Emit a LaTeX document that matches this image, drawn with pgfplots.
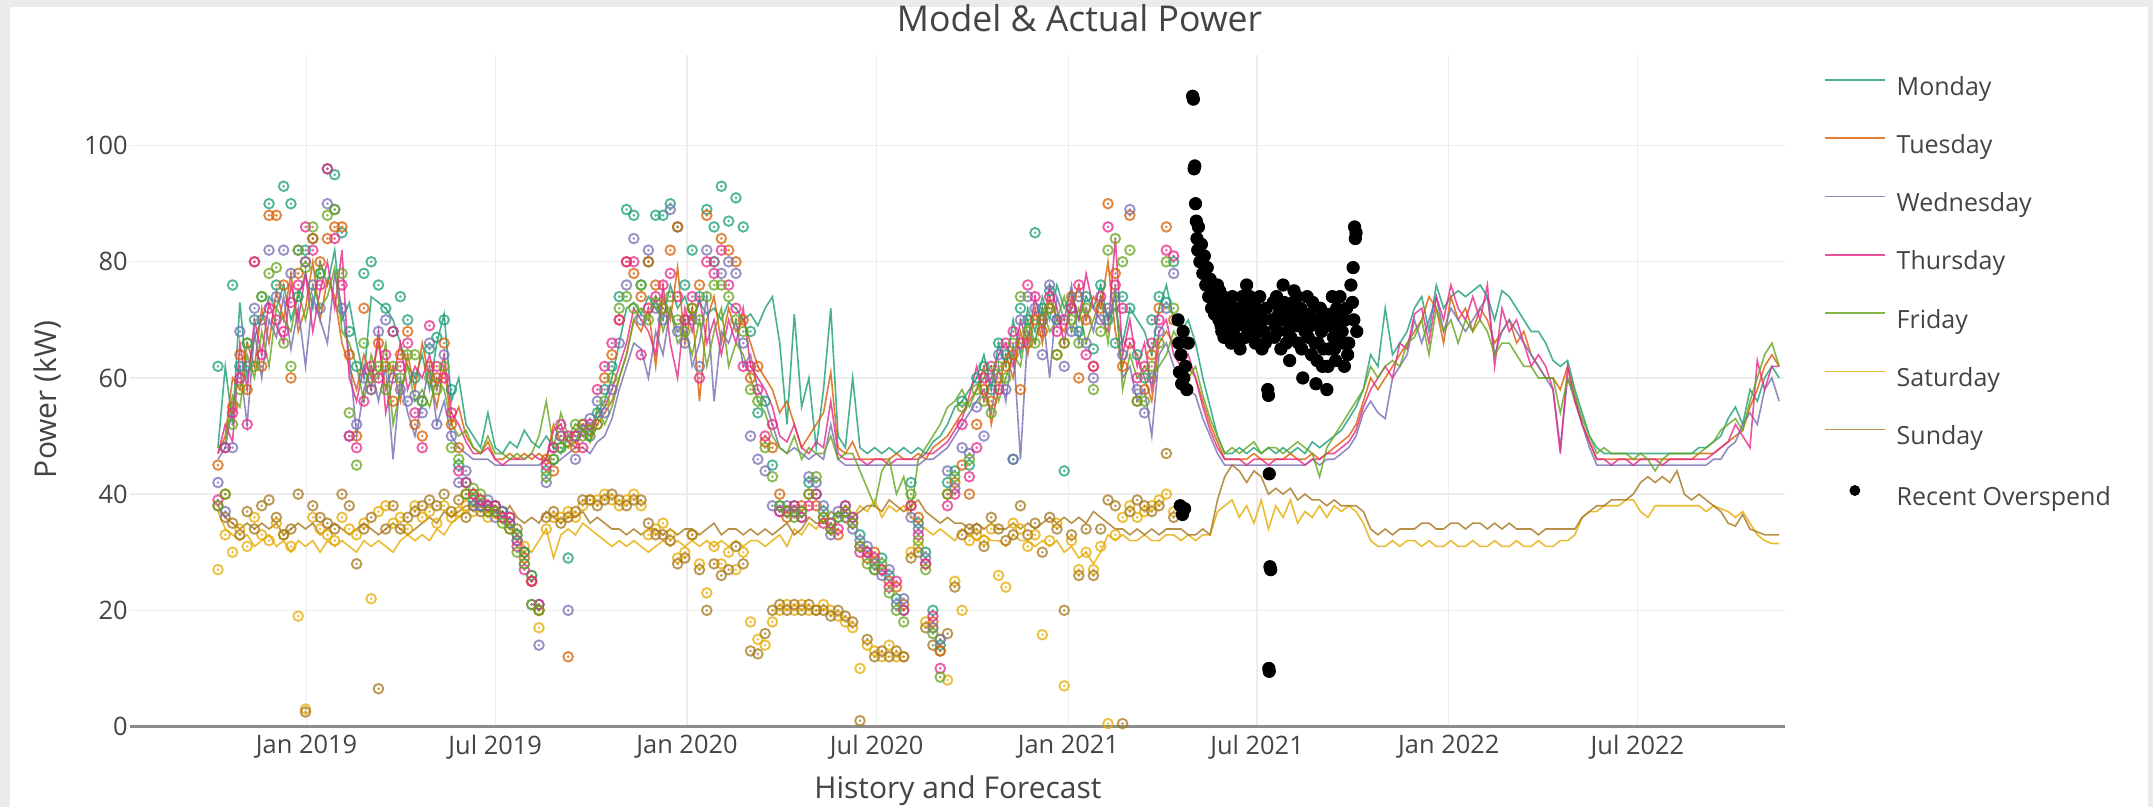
\documentclass[border=0pt]{standalone}
\usepackage{pgfplots}
\pgfplotsset{compat=1.18}
\usepackage{pgfplotstable}
\usepackage{fontspec}
\setmainfont{Open Sans}
\definecolor{cMon}{HTML}{1B9E77}
\definecolor{cTue}{HTML}{D95F02}
\definecolor{cWed}{HTML}{7570B3}
\definecolor{cThu}{HTML}{E7298A}
\definecolor{cFri}{HTML}{66A61E}
\definecolor{cSat}{HTML}{E6AB02}
\definecolor{cSun}{HTML}{A6761D}
\definecolor{txt}{HTML}{444444}
\definecolor{gridc}{HTML}{EDEDED}
\definecolor{zerol}{HTML}{8C8C8C}
\definecolor{framec}{HTML}{EBEBEB}

\pgfdeclareplotmark{cdot}{%
  \pgfpathcircle{\pgfpointorigin}{\pgfplotmarksize}%
  \pgfusepathqstroke
  \pgfpathcircle{\pgfpointorigin}{0.3\pgfplotmarksize}%
  \pgfusepathqfill
}

% model lines, weekly (w = weeks since 8 Oct 2018)
\pgfplotstableread{
w mo tu we th fr sa su
0 48 47 46 47 48 37 38
1 62 50 48 52 49 34 36
2 52 60 55 49 57 33 35
3 73 58 62 66 55 32 34
4 60 66 52 58 64 33 35
5 67 62 68 70 60 31 34
6 70 72 60 64 68 32 35
7 74 66 70 73 62 33 34
8 72 75 67 69 72 31 35
9 76 70 74 66 70 32 33
10 70 78 65 76 68 30 34
11 74 68 72 70 75 32 35
12 78 72 62 78 70 31 34
13 72 80 74 68 76 32 35
14 80 70 70 75 72 30 33
15 76 77 66 80 74 32 34
16 82 74 78 72 79 31 35
17 70 66 72 82 68 32 34
18 73 62 64 60 66 31 33
19 66 58 50 56 62 30 34
20 60 64 58 62 56 32 35
21 74 60 62 58 64 31 34
22 73 66 56 68 60 32 33
23 72 58 62 54 66 31 34
24 70 62 46 60 52 30 35
25 66 56 60 66 58 32 34
26 62 64 54 58 62 33 33
27 60 58 50 62 56 32 34
28 64 66 56 60 58 33 35
29 58 60 62 64 55 32 36
30 66 55 52 58 60 34 35
31 71 62 56 64 58 33 37
32 56 52 50 54 52 35 36
33 60 55 48 52 50 36 37
34 52 50 47 49 51 37 38
35 50 48 46 47 48 38 38
36 48 47 46 47 47 37 39
37 54 49 46 48 50 38 37
38 48 46 45 46 47 36 37
39 47 46 45 45 47 35 36
40 49 47 45 46 46 34 38
41 48 46 45 46 47 33 36
42 51 47 45 46 46 31 35
43 49 46 45 47 47 30 36
44 48 47 45 46 50 32 35
45 50 46 46 46 56 34 37
46 48 52 45 51 48 29 36
47 47 49 46 52 54 33 35
48 50 48 47 49 50 34 36
49 49 51 48 48 52 33 36
50 52 50 48 51 51 35 37
51 51 49 47 50 49 34 35
52 54 52 49 53 55 33 36
53 56 54 50 55 52 32 35
54 60 56 53 58 55 31 34
55 66 60 58 62 60 32 34
56 72 64 62 66 64 31 33
57 73 70 66 72 70 32 34
58 71 68 65 70 72 31 33
59 74 72 60 68 70 30 34
60 72 62 68 64 74 31 34
61 70 74 64 76 68 32 33
62 76 70 72 66 72 31 34
63 72 79 68 60 66 32 33
64 74 66 70 72 68 31 34
65 70 72 62 68 64 32 34
66 73 56 66 74 70 31 33
67 71 70 74 66 62 32 34
68 72 74 56 70 68 31 35
69 70 66 68 64 72 32 33
70 73 72 66 70 62 31 34
71 72 68 70 66 66 32 34
72 70 70 62 72 64 31 33
73 71 66 64 62 60 32 34
74 69 62 58 60 56 32 33
75 72 60 56 58 54 31 34
76 74 58 52 55 50 32 33
77 66 54 48 50 48 33 34
78 52 56 47 49 47 31 35
79 71 52 48 52 50 34 33
80 55 48 47 48 46 33 34
81 60 50 46 47 48 35 36
82 48 52 47 49 47 34 35
83 58 54 46 48 47 36 35
84 72 61 52 56 50 33 37
85 50 48 46 47 46 37 36
86 48 47 45 46 47 35 37
87 60 49 45 46 47 36 36
88 48 46 45 46 44 38 37
89 47 46 45 45 41 37 38
90 48 46 45 46 38 39 38
91 47 46 45 46 44 36 37
92 48 46 45 45 46 38 39
93 47 47 45 46 40 37 38
94 48 46 45 46 43 38 37
95 47 46 45 46 37 36 38
96 48 47 45 46 46 35 39
97 47 46 46 47 48 34 37
98 49 48 46 47 50 33 36
99 50 49 47 48 52 34 35
100 52 50 48 49 55 33 36
101 55 52 50 51 56 32 35
102 56 54 52 53 58 34 35
103 58 56 54 57 55 33 34
104 60 58 56 62 58 32 35
105 64 62 58 56 60 33 34
106 58 52 54 60 62 32 35
107 66 58 62 64 56 32 34
108 62 64 56 66 60 31 34
109 70 60 66 62 64 33 35
110 64 68 46 70 62 32 34
111 72 64 68 66 70 32 35
112 68 72 66 74 66 31 34
113 74 66 72 68 72 32 35
114 70 74 60 76 68 31 36
115 76 70 74 72 70 32 35
116 72 68 70 66 74 30 36
117 75 72 76 74 68 31 35
118 70 76 66 70 72 29 36
119 74 70 72 78 66 30 35
120 72 74 68 72 70 28 37
121 76 72 74 70 74 30 36
122 70 80 70 68 66 33 35
123 72 68 74 84 76 32 34
124 66 62 60 64 58 33 34
125 72 66 62 70 64 32 33
126 70 64 56 62 60 32 34
127 68 60 58 66 62 33 33
128 64 56 50 58 60 32 34
129 72 66 64 68 62 32 33
130 76 68 66 70 64 33 34
131 70 66 62 64 68 33 34
132 68 64 60 62 66 32 34
133 70 62 58 64 60 33 33
134 66 60 57 60 62 32 33
135 60 56 53 55 57 33 34
136 55 52 50 51 53 33 33
137 50 49 47 48 50 37 39
138 47 46 45 46 47 38 43
139 47 46 45 46 48 39 45
140 48 46 45 46 47 36 44
141 47 46 45 45 48 38 42
142 48 47 45 46 49 35 44
143 47 46 45 46 47 39 43
144 48 46 45 45 48 34 40
145 47 46 45 46 48 38 41
146 48 46 45 46 47 36 40
147 47 47 45 46 48 39 41
148 48 46 45 46 49 35 39
149 47 46 45 45 48 37 40
150 49 47 46 46 47 36 39
151 48 46 45 46 43 38 39
152 49 47 46 47 48 36 38
153 50 48 46 47 50 38 39
154 51 49 47 48 52 37 38
155 53 50 48 49 54 38 38
156 55 52 50 51 56 37 38
157 58 56 54 55 58 35 37
158 64 60 56 58 62 32 34
159 62 58 54 60 60 31 33
160 72 60 53 62 62 31 34
161 64 62 60 60 63 32 33
162 66 64 62 66 62 31 34
163 68 66 64 65 66 32 34
164 72 68 70 71 67 32 34
165 74 70 66 72 70 31 35
166 68 74 70 66 64 32 35
167 76 72 74 74 72 31 34
168 72 66 68 70 68 31 34
169 74 74 72 76 70 32 35
170 75 70 70 72 66 31 35
171 74 72 68 70 70 31 34
172 75 68 70 74 68 32 35
173 76 72 72 70 70 31 35
174 74 70 74 76 68 31 34
175 70 66 64 62 64 32 35
176 75 68 68 72 66 31 34
177 74 70 70 68 66 31 35
178 72 66 68 70 64 32 34
179 70 68 66 66 62 31 34
180 68 64 64 62 62 31 34
181 68 62 62 64 60 32 33
182 66 60 60 62 60 31 34
183 63 60 58 58 60 31 34
184 62 58 48 47 54 32 34
185 63 62 60 62 60 32 34
186 58 57 56 56 57 33 34
187 54 52 52 52 53 36 36
188 50 49 48 49 50 37 37
189 48 46 45 46 47 37 38
190 47 46 45 46 48 38 38
191 47 46 45 45 47 38 39
192 47 46 45 46 47 38 39
193 47 46 45 46 47 39 39
194 47 46 45 45 46 39 40
195 47 46 45 46 47 37 42
196 47 46 45 46 46 36 43
197 47 46 45 46 44 38 42
198 47 46 45 45 46 38 43
199 47 46 45 46 47 38 42
200 47 46 45 46 47 38 44
201 47 46 45 46 47 38 40
202 47 46 45 46 47 38 39
203 48 47 45 46 47 38 40
204 48 47 45 46 48 37 39
205 49 47 46 47 49 38 38
206 50 48 46 48 51 37.5 37
207 53 49 48 49 52 37 35
208 55 50 49 52 53 36 34.5
209 52 51 52 50 51 37 36.5
210 58 55 54 48 56 35 34
211 56 58 52 63 60 33 33.5
212 60 62 58 58 64 32 33
213 62 64 60 62 66 31.5 33
214 60 62 56 62 62 31.5 33
}\tblmodel

% actual (history) values, weekly
\pgfplotstableread{
w mo tu we th fr sa su
0 62 45 42 39 38 27 38
1 48 40 37 48 40 33 36
2 76 55 48 54 52 30 35
3 62 64 68 60 58 34 33
4 66 58 62 52 66 31 37
5 70 80 72 80 62 36 34
6 74 62 70 64 74 33 38
7 90 88 82 72 78 32 39
8 76 88 74 70 79 35 36
9 93 76 82 68 66 33 33
10 90 60 78 73 62 31 34
11 74 78 82 76 82 19 40
12 82 80 80 86 79 3 2.5
13 84 84 76 82 86 36 38
14 78 80 72 76 78 34 36
15 96 84 90 96 88 33 35
16 95 86 89 84 89 32 34
17 85 86 72 76 78 36 40
18 68 64 50 50 54 34 38
19 62 50 52 48 45 33 28
20 78 72 60 56 66 35 34
21 80 58 58 62 60 22 36
22 76 66 68 60 62 37 6.5
23 72 62 70 64 58 38 34
24 68 56 60 68 62 35 38
25 74 64 58 62 60 36 34
26 70 68 56 66 64 34 36
27 60 52 57 54 64 38 37
28 56 50 54 48 56 36 38
29 65 62 66 69 60 37 39
30 67 60 52 62 58 35 38
31 70 66 64 60 62 38 40
32 58 52 50 54 48 36 37
33 45 48 42 44 46 37 39
34 42 40 44 42 40 38 36
35 39 40 38 40 41 37 38
36 38 39 38 39 40 38 37
37 38 37 39 38 37 36 38
38 38 37 36 38 37 37 38
39 37 36 37 36 35 36 37
40 35 34 35 36 34 35 36
41 33 32 32 31 30 33 34
42 30 29 28 27 28 31 30
43 26 25 21 25 21 26 25
44 21 20 14 21 20 17 20
45 44 46 42 45 43 34 36
46 46 44 48 48 46 36 37
47 48 50 50 52 48 36 35
48 29 12 20 50 49 37 36
49 50 48 46 50 52 36 37
50 52 52 51 48 50 38 39
51 50 51 53 52 51 39 39
52 54 52 56 58 52 39 38
53 58 60 54 62 56 40 39
54 62 64 58 66 60 39 40
55 74 70 66 70 72 38 39
56 89 80 76 80 74 39 38
57 88 78 84 80 72 40 39
58 76 74 70 64 76 38 39
59 80 80 82 72 70 33 35
60 88 76 72 74 73 34 33
61 88 72 70 76 72 35 33
62 90 82 89 78 74 33 32
63 86 86 68 74 70 29 28
64 76 70 66 70 68 30 29
65 82 72 70 74 72 33 33
66 74 76 62 60 70 28 27
67 89 88 82 80 74 23 20
68 86 80 80 78 76 31 28
69 93 84 78 82 76 28 26
70 87 82 80 76 74 30 27
71 91 80 78 72 70 27 31
72 86 70 66 62 68 30 28
73 68 60 50 62 58 18 13
74 54 62 46 58 56 15 12.5
75 56 49 44 50 48 14 16
76 45 48 38 52 43 18 20
77 38 40 37 37 38 20 21
78 37 36 38 37 37 21 20
79 38 37 37 38 36 20 21
80 37 38 36 36 37 21 20
81 42 40 43 38 40 20 21
82 40 38 42 40 43 20 20
83 37 36 38 35 36 21 20
84 35 34 33 35 34 20 19
85 36 33 37 34 36 19 20
86 38 37 36 38 37 18 19
87 36 35 34 36 35 17 18
88 33 31 32 30 31 10 1
89 30 29 31 30 28 14 15
90 28 30 27 29 27 13 12
91 29 27 26 27 28 12 13
92 26 25 27 24 23 14 12
93 22 24 21 25 20 12 13
94 20 21 22 20 18 12 12
95 42 38 36 38 40 30 29
96 35 36 34 33 32 31 30
97 30 28 29 28 27 18 17
98 20 18 17 19 16 17 14
99 14 13 15 10 8.5 15 13
100 42 40 44 38 40 8 16
101 44 42 41 40 43 25 24
102 56 45 48 52 55 20 33
103 45 40 47 43 46 32 34
104 60 52 55 48 58 33 34
105 62 58 50 60 56 32 31
106 58 56 60 62 54 34 36
107 66 60 64 58 62 26 34
108 64 62 58 66 60 24 32
109 46 64 46 68 66 35 33
110 72 58 70 66 74 34 38
111 70 66 74 76 68 31 33
112 85 70 72 74 66 33 35
113 72 68 64 70 70 15.8 30
114 75 72 76 74 72 32 36
115 70 64 70 68 64 35 34
116 44 66 62 70 66 7 20
117 72 74 68 72 70 32 33
118 68 60 74 76 66 27 26
119 74 70 66 64 72 30 34
120 65 62 60 62 58 27 26
121 76 72 70 74 68 31 34
122 70 90 72 86 82 0.5 39
123 66 78 74 76 84 33 38
124 74 62 64 72 80 36 0.5
125 72 88 89 66 82 38 37
126 64 56 58 60 56 36 39
127 60 58 54 62 56 37 38
128 70 64 60 66 62 38 37
129 74 72 68 70 66 39 38
130 73 86 72 82 80 40 47
131 80 70 78 81 72 37 36
}\tblact

% recent overspend
\pgfplotstableread{
w v
131.6 70
131.7 66
131.8 61
131.9 38
132.0 64
132.1 59
132.2 36.5
132.3 68
132.4 60
132.5 37.5
132.6 62
132.8 58
133.0 66
133.6 108.5
133.7 108
133.8 96
133.9 96.5
134.0 90
134.1 87
134.2 84
134.3 82
134.4 86
134.6 80
134.8 83
135.0 78
135.2 81
135.4 76
135.6 79
135.8 74
136.0 77
136.2 72
136.4 75
136.6 71
136.8 73
137.0 76
137.1 73
137.2 70
137.3 75
137.4 72
137.5 69
137.6 68
137.7 71
137.8 74
137.9 67
138.0 71
138.15 72
138.3 69
138.45 70
138.6 73
138.75 68
138.9 66
139.05 74
139.2 70
139.35 71
139.5 67
139.65 69
139.8 72
139.95 66
140.1 65
140.25 70
140.4 74
140.55 72
140.7 69
140.85 67
141.0 76
141.15 73
141.3 71
141.45 74
141.6 68
141.75 70
141.9 73
142.05 69
142.2 66
142.35 72
142.5 70
142.65 68
142.8 74
142.95 71
143.1 65
143.25 70
143.4 68
143.55 66
143.7 72
143.9 58
144.0 57
144.1 43.5
144.2 27.5
144.3 27
144.05 10
144.1 9.5
144.5 70
144.65 73
144.8 67
144.95 69
145.1 74
145.25 68
145.4 71
145.55 72
145.7 65
145.85 70
146.0 76
146.15 73
146.3 72
146.45 66
146.6 68
146.75 70
146.9 63
147.05 67
147.2 70
147.35 73
147.5 75
147.65 71
147.8 69
147.95 74
148.1 66
148.25 69
148.4 72
148.55 65
148.7 60
148.85 70
149.0 68
149.15 71
149.3 74
149.45 67
149.6 71
149.75 69
149.9 64
150.05 73
150.2 70
150.35 66
150.5 59
150.65 63
150.8 66
150.95 70
151.1 72
151.25 68
151.4 62
151.55 65
151.7 69
151.85 71
152.0 58
152.15 62
152.3 65
152.45 69
152.6 71
152.75 74
152.9 67
153.05 65
153.2 63
153.35 72
153.5 70
153.65 69
153.8 74
153.95 71
154.1 68
154.25 66
154.4 62
154.55 70
154.7 72
154.85 64
155.0 66
155.3 76
155.5 73
155.6 79
155.7 70
155.8 86
155.9 84
156.0 85
156.1 68
}\tblover

\begin{document}
\begin{tikzpicture}
\fill[framec] (0pt,0pt) rectangle (1076.5pt,403.5pt);
\fill[white] (5pt,0pt) rectangle (1074pt,400pt);
\begin{axis}[
  at={(65pt,40.25pt)}, anchor=south west,
  scale only axis, width=827.5pt, height=335.75pt,
  xmin=-12.06, xmax=214.8, ymin=0, ymax=115.6,
  axis line style={draw=none},
  major tick length=0pt,
  xtick={12.14,38,64.29,90.29,116.57,142.43,168.71,194.57},
  xticklabels={Jan 2019,Jul 2019,Jan 2020,Jul 2020,Jan 2021,Jul 2021,Jan 2022,Jul 2022},
  ytick={20,40,60,80,100},
  extra y ticks={0},
  extra y tick style={grid=major, grid style={draw=zerol, line width=1.1pt}},
  grid=major, grid style={draw=gridc, line width=0.7pt},
  /pgf/number format/assume math mode=true,
  tick label style={font=\fontsize{12.7}{15}\selectfont, text=txt},
  xticklabel style={anchor=north, inner sep=0pt, yshift=-4.25pt},
  yticklabel style={anchor=east, inner sep=0pt, xshift=-1pt},
  clip=false,
  legend cell align=left,
  legend style={
    at={(axis description cs:1.0236,0.9672)}, anchor=north west,
    draw=none, fill=none, inner sep=0pt, outer sep=0pt,
    font=\fontsize{12.5}{15}\selectfont, text=txt,
    row sep=17.15pt,
    nodes={inner sep=0pt, text height=9pt, text depth=3pt},
    /tikz/every odd column/.append style={column sep=5.5pt},
  },
  legend image code/.code={\draw[#1] (0pt,4.6pt) -- (30pt,4.6pt);},
]
\addplot[draw=cMon, line width=0.8pt, draw opacity=0.8] table[x=w,y=mo]{\tblmodel};
\addlegendentry{Monday}
\addplot[draw=cTue, line width=0.8pt, draw opacity=0.8] table[x=w,y=tu]{\tblmodel};
\addlegendentry{Tuesday}
\addplot[draw=cWed, line width=0.8pt, draw opacity=0.8] table[x=w,y=we]{\tblmodel};
\addlegendentry{Wednesday}
\addplot[draw=cThu, line width=0.8pt, draw opacity=0.8] table[x=w,y=th]{\tblmodel};
\addlegendentry{Thursday}
\addplot[draw=cFri, line width=0.8pt, draw opacity=0.8] table[x=w,y=fr]{\tblmodel};
\addlegendentry{Friday}
\addplot[draw=cSat, line width=0.8pt, draw opacity=0.8] table[x=w,y=sa]{\tblmodel};
\addlegendentry{Saturday}
\addplot[draw=cSun, line width=0.8pt, draw opacity=0.8] table[x=w,y=su]{\tblmodel};
\addlegendentry{Sunday}

\addplot[forget plot, only marks, mark=cdot, mark size=2.4pt, mark options={draw=cSat, fill=cSat, line width=0.95pt, draw opacity=0.75, fill opacity=0.75}] table[x=w,y=sa]{\tblact};
\addplot[forget plot, only marks, mark=cdot, mark size=2.4pt, mark options={draw=cSun, fill=cSun, line width=0.95pt, draw opacity=0.75, fill opacity=0.75}] table[x=w,y=su]{\tblact};
\addplot[forget plot, only marks, mark=cdot, mark size=2.4pt, mark options={draw=cMon, fill=cMon, line width=0.95pt, draw opacity=0.75, fill opacity=0.75}] table[x=w,y=mo]{\tblact};
\addplot[forget plot, only marks, mark=cdot, mark size=2.4pt, mark options={draw=cTue, fill=cTue, line width=0.95pt, draw opacity=0.75, fill opacity=0.75}] table[x=w,y=tu]{\tblact};
\addplot[forget plot, only marks, mark=cdot, mark size=2.4pt, mark options={draw=cWed, fill=cWed, line width=0.95pt, draw opacity=0.75, fill opacity=0.75}] table[x=w,y=we]{\tblact};
\addplot[forget plot, only marks, mark=cdot, mark size=2.4pt, mark options={draw=cThu, fill=cThu, line width=0.95pt, draw opacity=0.75, fill opacity=0.75}] table[x=w,y=th]{\tblact};
\addplot[forget plot, only marks, mark=cdot, mark size=2.4pt, mark options={draw=cFri, fill=cFri, line width=0.95pt, draw opacity=0.75, fill opacity=0.75}] table[x=w,y=fr]{\tblact};

\addplot[only marks, mark=*, mark size=3.1pt, mark options={draw=black, fill=black},
  legend image code/.code={\fill[black] (15pt,4.6pt) circle (2.5pt);}] table[x=w,y=v]{\tblover};
\addlegendentry{Recent Overspend}
\end{axis}
\node[anchor=base, inner sep=0pt, font=\fontsize{17.8}{20}\selectfont, text=txt] at (539.75pt,387.6pt) {Model \& Actual Power};
\node[anchor=base, inner sep=0pt, font=\fontsize{15}{18}\selectfont, text=txt] at (479pt,4pt) {History and Forecast};
\node[rotate=90, anchor=base, inner sep=0pt, font=\fontsize{15}{18}\selectfont, text=txt] at (28pt,203.75pt) {Power (kW)};
\end{tikzpicture}
\end{document}
